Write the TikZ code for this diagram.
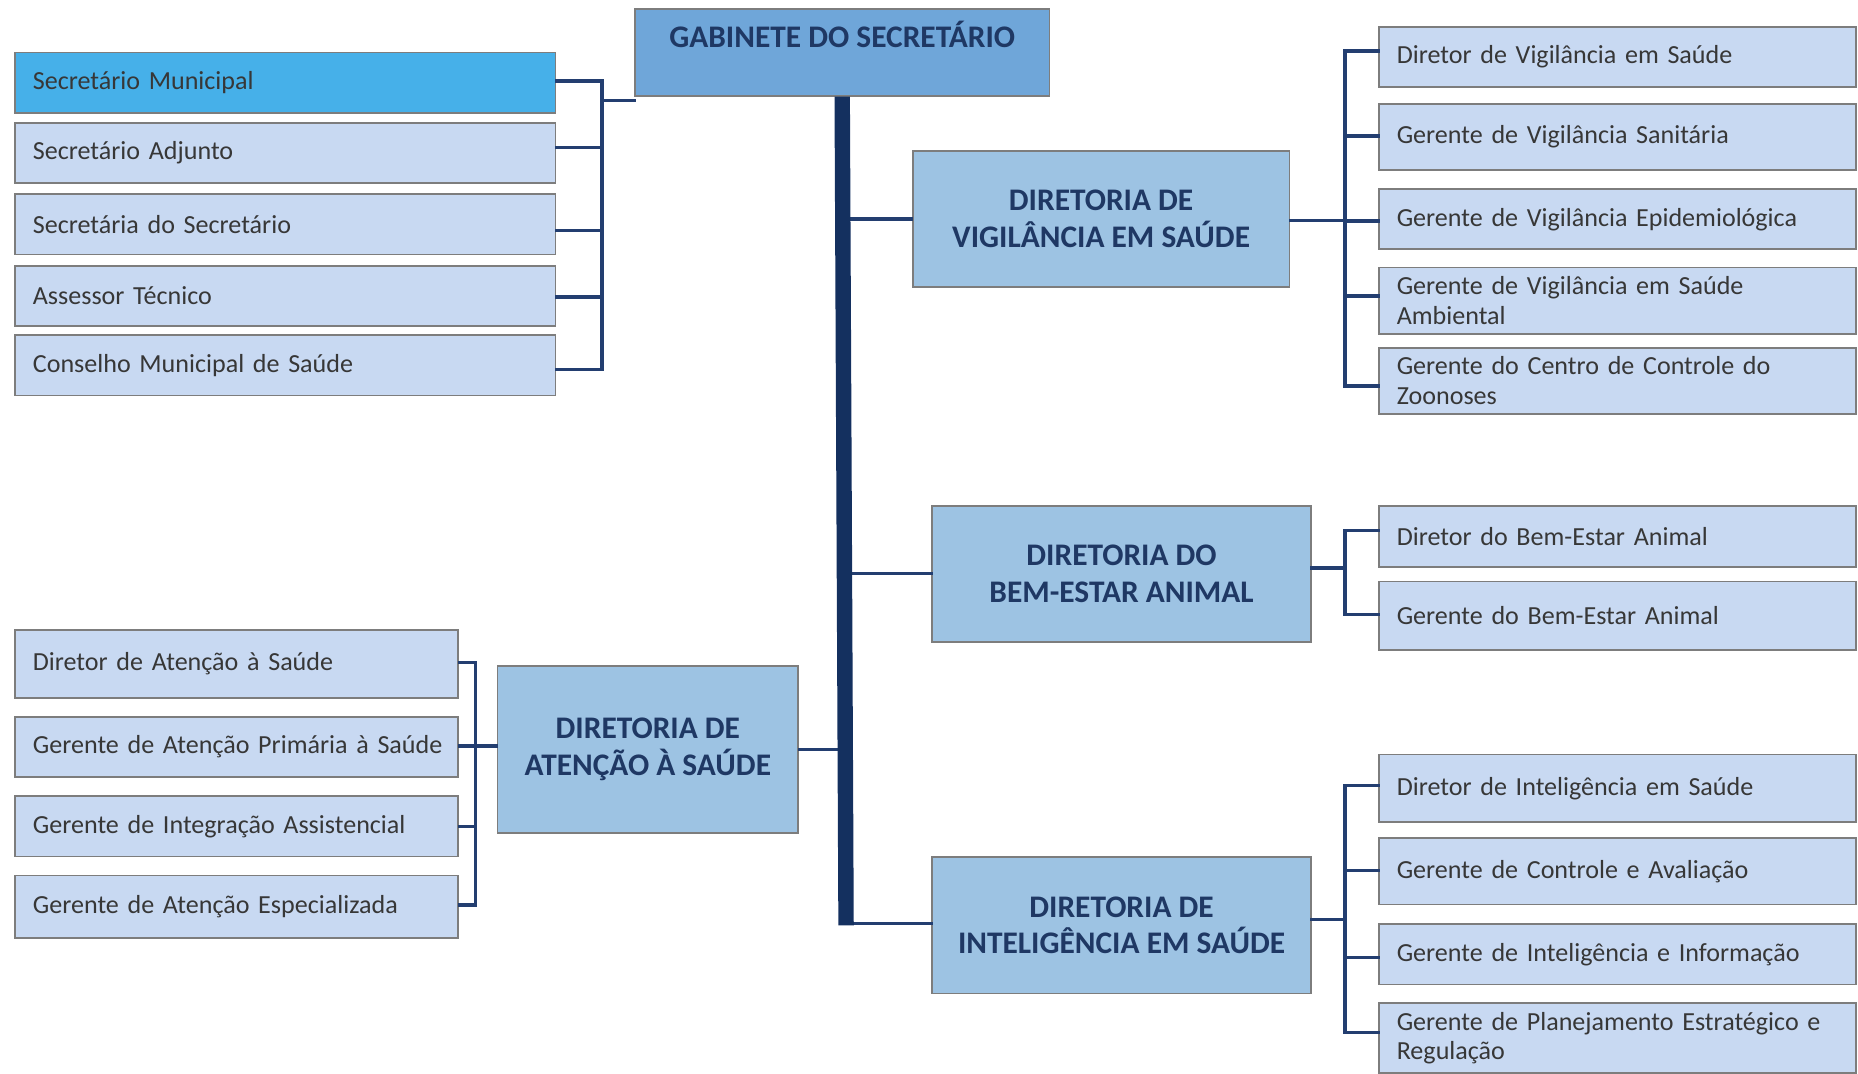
\documentclass[tikz,border=0pt]{standalone}
\usepackage{fontspec}
\setmainfont{Carlito}
\definecolor{boxfill}{RGB}{200,217,242}
\definecolor{smfill}{RGB}{70,176,233}
\definecolor{dirfill}{RGB}{157,195,227}
\definecolor{gabfill}{RGB}{111,166,217}
\definecolor{boxline}{RGB}{125,125,125}
\definecolor{navy}{RGB}{31,56,100}
\definecolor{wirec}{RGB}{35,62,112}
\definecolor{trunkc}{RGB}{20,48,95}
\definecolor{bodytext}{RGB}{55,55,55}

\tikzset{
  unit/.style={draw=boxline, line width=1.5pt, fill=boxfill, anchor=north west,
    inner xsep=15pt, inner ysep=0pt, align=left, text=bodytext,
    font=\fontsize{22}{25}\selectfont},
  lunit/.style={unit, text width=426pt},
  runit/.style={unit, text width=372.5pt},
  aunit/.style={unit, text width=344pt},
  dirbox/.style={draw=boxline, line width=1.5pt, fill=dirfill, anchor=north west,
    inner sep=0pt, align=center, text=navy,
    font=\bfseries\fontsize{26.5}{31}\selectfont},
  gabbox/.style={draw=boxline, line width=1.5pt, fill=gabfill, anchor=north west,
    inner sep=0pt, text height=32.5pt, text depth=40.5pt, text=navy,
    font=\bfseries\fontsize{26.5}{31}\selectfont},
  wire/.style={draw=wirec, line width=2.8pt, line cap=rect},
  trunkline/.style={draw=trunkc, line width=13pt, line cap=butt},
}

% stub from a box side (shifted vertically) across to a bus column
\newcommand{\tieE}[3]{%
  \coordinate (#1-t) at ([yshift=#2]#1.east);
  \draw[wire] (#1-t) -- (#1-t -| #3);}
\newcommand{\tieW}[3]{%
  \coordinate (#1-t) at ([yshift=#2]#1.west);
  \draw[wire] (#1-t) -- (#1-t -| #3);}

\begin{document}
\begin{tikzpicture}[x=1pt,y=-1pt]
\useasboundingbox (0,0) rectangle (1568,906);

% cabinet
\node[gabbox, minimum width=350pt] (gab) at (535,7) {GABINETE DO SECRETÁRIO};

% cabinet members
\node[lunit, minimum height=51pt, fill=smfill] (sm) at (12,43.5) {Secretário Municipal};
\node[lunit, minimum height=51pt] (sa) at (12,103) {Secretário Adjunto};
\node[lunit, minimum height=51pt] (ss) at (12,163) {Secretária do Secretário};
\node[lunit, minimum height=51pt] (at) at (12,223.5) {Assessor Técnico};
\node[lunit, minimum height=51pt] (cm) at (12,282) {Conselho Municipal de Saúde};

% directorates
\node[dirbox, minimum width=318pt, minimum height=115pt] (vig) at (769.5,126.6) {DIRETORIA DE\\VIGILÂNCIA EM SAÚDE};
\node[dirbox, minimum width=319.5pt, minimum height=115pt] (bem) at (786,426) {DIRETORIA DO\\BEM-ESTAR ANIMAL};
\node[dirbox, minimum width=319.5pt, minimum height=115pt] (int) at (786,722.6) {DIRETORIA DE\\INTELIGÊNCIA EM SAÚDE};
\node[dirbox, minimum width=254pt, minimum height=141pt] (ate) at (419,561) {DIRETORIA DE\\ATENÇÃO À SAÚDE};

% health surveillance units
\node[runit, minimum height=50.6pt] (dv) at (1163,22) {Diretor de Vigilância em Saúde};
\node[runit, minimum height=56pt] (gs) at (1163,86.7) {Gerente de Vigilância Sanitária};
\node[runit, minimum height=50.7pt] (ge) at (1163,159) {Gerente de Vigilância Epidemiológica};
\node[runit, minimum height=56pt] (ga) at (1163,225) {Gerente de Vigilância em Saúde\\Ambiental};
\node[runit, minimum height=56pt] (gz) at (1163,292.6) {Gerente do Centro de Controle do\\Zoonoses};

% animal welfare units
\node[runit, minimum height=52pt] (db) at (1163,426) {Diretor do Bem-Estar Animal};
\node[runit, minimum height=58pt] (gb) at (1163,490) {Gerente do Bem-Estar Animal};

% health intelligence units
\node[runit, minimum height=57pt] (di) at (1163,636) {Diretor de Inteligência em Saúde};
\node[runit, minimum height=56pt] (gc) at (1163,706.5) {Gerente de Controle e Avaliação};
\node[runit, minimum height=51pt] (gi) at (1163,779) {Gerente de Inteligência e Informação};
\node[runit, minimum height=59.4pt] (gp) at (1163,845.6) {Gerente de Planejamento Estratégico e\\Regulação};

% health care units
\node[aunit, minimum height=57pt] (da) at (12,531) {Diretor de Atenção à Saúde};
\node[aunit, minimum height=51pt] (gpr) at (12,604) {\mbox{Gerente de Atenção Primária à Saúde}};
\node[aunit, minimum height=51pt] (gin) at (12,671) {Gerente de Integração Assistencial};
\node[aunit, minimum height=52.7pt] (ges) at (12,738) {Gerente de Atenção Especializada};

% bus columns
\coordinate (busL) at (508,0);
\coordinate (busR) at (1135,0);
\coordinate (busA) at (401,0);
\coordinate (trk) at (712,0);
\coordinate (trkEnd) at (714,781);

% cabinet members to cabinet
\tieE{sm}{1.5pt}{busL}
\tieE{sa}{4.5pt}{busL}
\tieE{ss}{-5.5pt}{busL}
\tieE{at}{-0.8pt}{busL}
\tieE{cm}{-3.3pt}{busL}
\draw[wire] (sm-t -| busL) -- (cm-t -| busL);
\coordinate (gabL) at ([yshift=-3.5pt]gab.south west);
\draw[wire] (gabL) -- (gabL -| busL);

% surveillance branch
\tieW{dv}{5pt}{busR}
\tieW{gs}{0.8pt}{busR}
\tieW{ge}{-1.3pt}{busR}
\tieW{ga}{4pt}{busR}
\tieW{gz}{-4.3pt}{busR}
\draw[wire] (dv-t -| busR) -- (gz-t -| busR);
\tieE{vig}{-1.4pt}{busR}

% animal welfare branch
\tieW{db}{5pt}{busR}
\tieW{gb}{1pt}{busR}
\draw[wire] (db-t -| busR) -- (gb-t -| busR);
\tieE{bem}{5pt}{busR}

% intelligence branch
\tieW{di}{2.5pt}{busR}
\tieW{gc}{0.5pt}{busR}
\tieW{gi}{-2.5pt}{busR}
\tieW{gp}{5pt}{busR}
\draw[wire] (di-t -| busR) -- (gp-t -| busR);
\tieE{int}{5pt}{busR}

% health care branch
\tieE{da}{1pt}{busA}
\tieE{gpr}{0.8pt}{busA}
\tieE{gin}{-0.3pt}{busA}
\tieE{ges}{1.3pt}{busA}
\draw[wire] (da-t -| busA) -- (ges-t -| busA);
\draw[wire] (gpr-t -| busA) -- (gpr-t -| ate.west);

% directorates to the trunk
\draw[wire] (vig.west) -- (vig.west -| trk);
\draw[wire] (bem.west) -- (bem.west -| trk);
\draw[wire] ([yshift=1.4pt]int.west) -- ([yshift=1.4pt]int.west -| trk);
\draw[wire] (ate.east) -- (ate.east -| trk);

% main trunk
\draw[trunkline] (gab.south) -- (trkEnd);
\end{tikzpicture}
\end{document}
